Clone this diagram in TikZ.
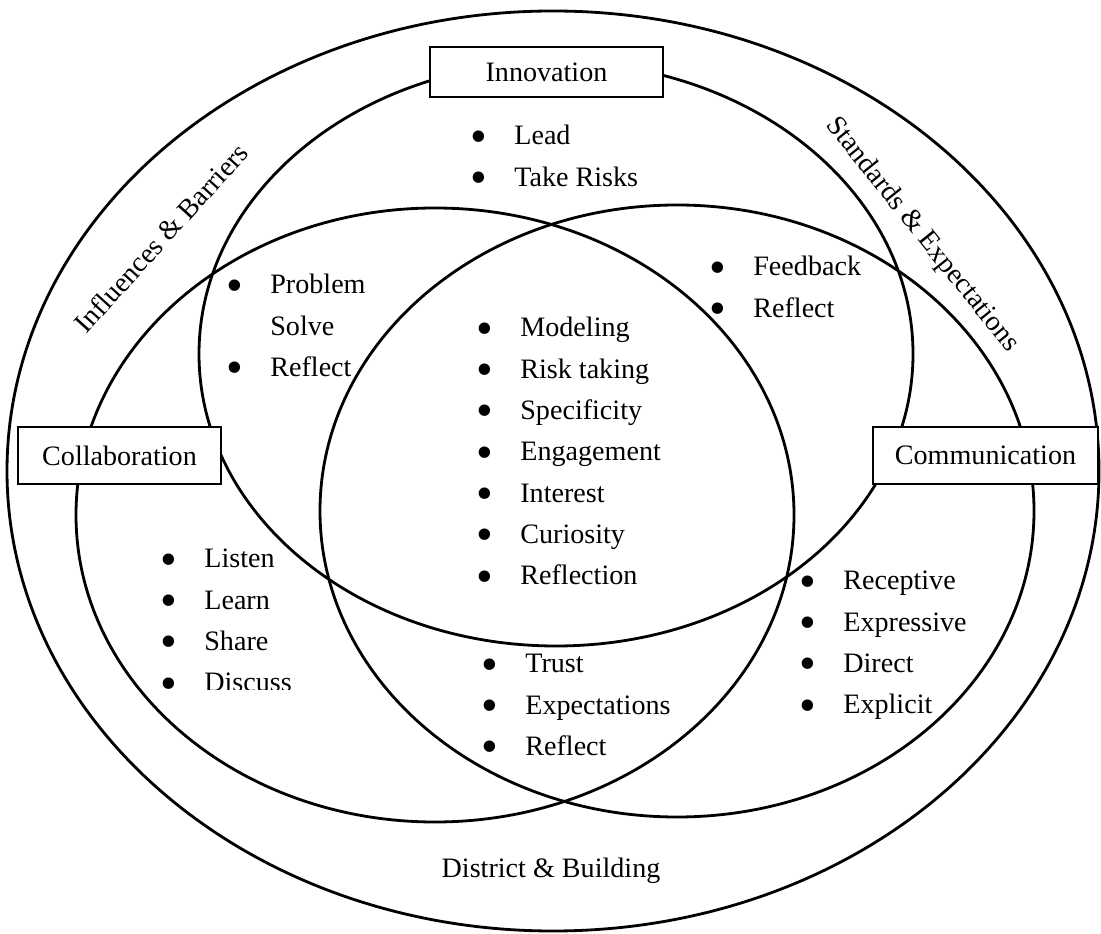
\documentclass[tikz,border=0pt]{standalone}
\usepackage{fontspec}
\setmainfont{Liberation Serif}
\usetikzlibrary{shapes}

% one bullet item, and a list of them
\newcommand\bigdot{\raisebox{-0.15em}{$\vcenter{\hbox{\scalebox{1.7}{\textbullet}}}$}}
\newcommand\itm{\makebox[0.88cm][l]{\bigdot}}
\newcommand\noitm{\hspace*{0.88cm}}
\newcommand\blist[1]{\begin{tabular}[t]{@{}l@{}}#1\end{tabular}}

\begin{document}
\begin{tikzpicture}[%
  x=0.02cm,y=0.02cm,
  every node/.style={font=\fontsize{16}{23.5}\selectfont},
  ring/.style={line width=1.6pt},
  title/.style={rectangle,draw,line width=1pt,fill=white,inner sep=0pt,
    minimum height=1.14cm},
  items/.style={anchor=base west,inner sep=0pt},
  edge/.style={inner sep=0pt}]
    \useasboundingbox (0,0) rectangle (1101,933);
    % Rings
    \draw[ring] (553,462) ellipse [x radius=546,y radius=460];
    \draw[ring] (556,579) ellipse [x radius=357,y radius=292];
    \draw[ring] (435,418) ellipse [x radius=359,y radius=307];
    \draw[ring] (677,422) ellipse [x radius=357,y radius=306];
    % Titles
    \node[title,minimum width=4.66cm,minimum height=1cm] (inno) at (546.5,861) {Innovation};
    \node[title,minimum width=4.06cm] (collab) at (119.5,477.5) {Collaboration};
    \node[title,minimum width=4.5cm] (comm) at (985.5,477.5) {Communication};
    % Outer ring labels
    \node[edge,rotate=47.8] (infl) at (161,695) {Influences \& Barriers};
    \node[edge,rotate=-51.3] (stand) at (922,698) {Standards \& Expectations};
    \node[edge] (district) at (551,62) {District \& Building};
    % Lists
    \node[items] (leadlist) at (470,788) {\blist{\itm Lead\\ \itm Take Risks}};
    \node[items] (solvelist) at (226,639) {\blist{\itm Problem\\ \noitm Solve\\ \itm Reflect}};
    \node[items] (feedlist) at (709,657) {\blist{\itm Feedback\\ \itm Reflect}};
    \node[items] (corelist) at (476,596) {\blist{\itm Modeling\\ \itm Risk taking\\
      \itm Specificity\\ \itm Engagement\\ \itm Interest\\ \itm Curiosity\\ \itm Reflection}};
    \begin{scope}
      \clip (150,244) rectangle (340,400);
      \node[items] (listenlist) at (160,365) {\blist{\itm Listen\\ \itm Learn\\ \itm Share\\ \itm Discuss}};
    \end{scope}
    \node[items] (trustlist) at (481,260) {\blist{\itm Trust\\ \itm Expectations\\ \itm Reflect}};
    \node[items] (explist) at (799,343) {\blist{\itm Receptive\\ \itm Expressive\\ \itm Direct\\ \itm Explicit}};
\end{tikzpicture}
\end{document}
